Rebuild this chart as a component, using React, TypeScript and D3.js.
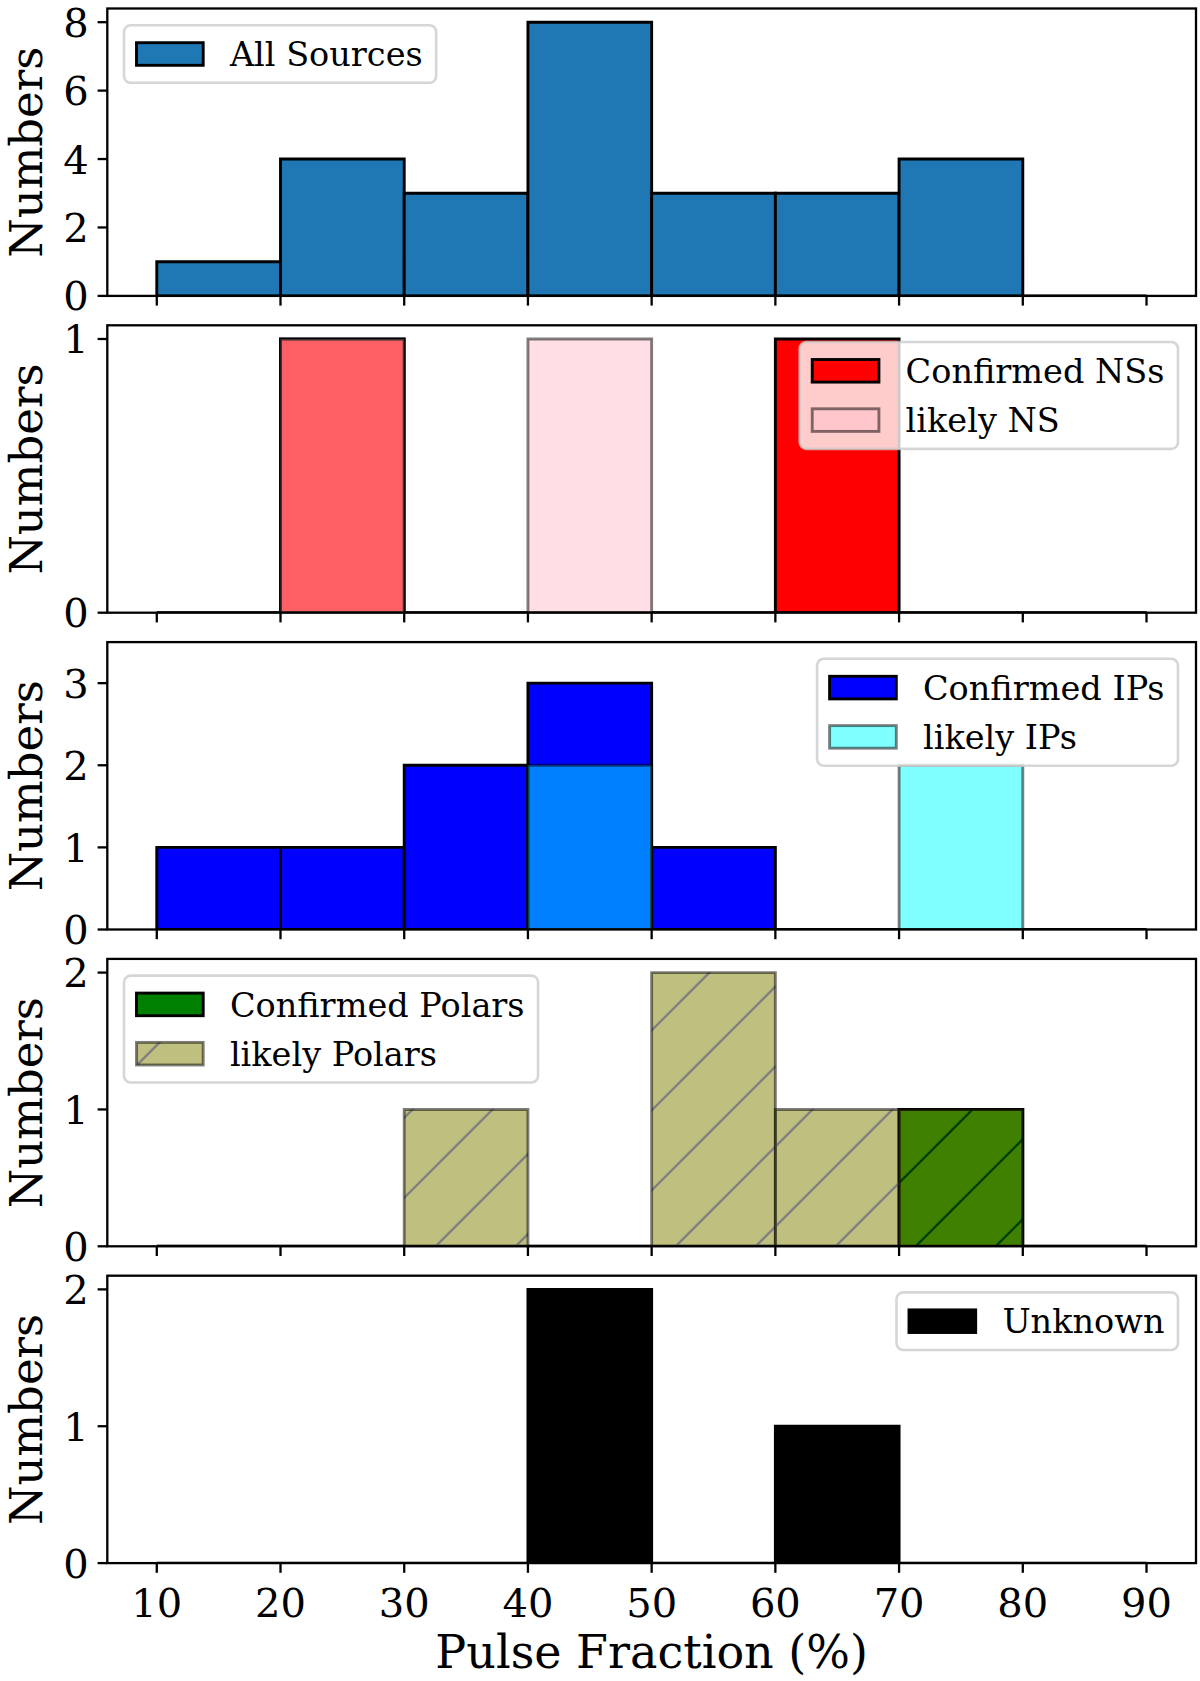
import React, { useEffect, useRef } from 'react';
import * as d3 from 'd3';

// histogram bins (pulse fraction, %)
const binEdges = [10, 20, 30, 40, 50, 60, 70, 80, 90];
const allSources = [1, 4, 3, 8, 3, 3, 4, 0];
const confirmedNS = [0, 1, 0, 0, 0, 1, 0, 0];
const likelyNS = [0, 1, 0, 1, 0, 0, 0, 0];
const confirmedIPs = [1, 1, 2, 3, 1, 0, 0, 0];
const likelyIPs = [0, 0, 0, 2, 0, 0, 2, 0];
const confirmedPolars = [0, 0, 0, 0, 0, 0, 1, 0];
const likelyPolars = [0, 0, 1, 0, 2, 1, 1, 0];
const unknownSrc = [0, 0, 0, 2, 0, 1, 0, 0];

const xTicks = [10, 20, 30, 40, 50, 60, 70, 80, 90];
const yTicksPerPanel = [[0, 2, 4, 6, 8], [0, 1], [0, 1, 2, 3], [0, 1, 2], [0, 1, 2]];
const yTopPerPanel = [8.4, 1.05, 3.5, 2.1, 2.1];

interface Layer {
  values: number[];
  fill: string;
  label: string;
  alpha?: number;
  hatch?: boolean;
}

interface Panel {
  layers: Layer[];
  legend: 'left' | 'right';
}

const panels: Panel[] = [
  { layers: [{ values: allSources, fill: '#1f77b4', label: 'All Sources' }], legend: 'left' },
  {
    layers: [
      { values: confirmedNS, fill: '#ff0000', label: 'Confirmed NSs' },
      { values: likelyNS, fill: '#ffc0cb', label: 'likely NS', alpha: 0.5 },
    ],
    legend: 'right',
  },
  {
    layers: [
      { values: confirmedIPs, fill: '#0000ff', label: 'Confirmed IPs' },
      { values: likelyIPs, fill: '#00ffff', label: 'likely IPs', alpha: 0.5 },
    ],
    legend: 'right',
  },
  {
    layers: [
      { values: confirmedPolars, fill: '#008000', label: 'Confirmed Polars' },
      { values: likelyPolars, fill: '#808000', label: 'likely Polars', alpha: 0.5, hatch: true },
    ],
    legend: 'left',
  },
  { layers: [{ values: unknownSrc, fill: '#000000', label: 'Unknown' }], legend: 'right' },
];

const FONT = '"DejaVu Serif", serif';

const App: React.FC = () => {
  const svgRef = useRef<SVGSVGElement | null>(null);

  useEffect(() => {
    if (!svgRef.current) return;
    document.body.style.margin = '0';

    const width = 1200;
    const height = 1681;
    const axLeft = 107.3;
    const axRight = 1196;
    const top0 = 8.5;
    const panelH = 287.4;
    const step = 316.8;
    const tickLen = 9.7;
    const spineW = 2.3;
    const edgeW = 2.9;

    const svg = d3.select(svgRef.current);
    svg.selectAll('*').remove();
    svg.attr('width', width).attr('height', height);

    const x = d3.scaleLinear().domain([6, 94]).range([axLeft, axRight]);

    const defs = svg.append('defs');
    // '/' hatch tiled in page coords; line colour = black at 50% over what lies below
    const hatchIds = new Map<string, string>();
    const hatchFor = (below: string) => {
      const col = d3.interpolateRgb(below, '#000')(0.5);
      if (hatchIds.has(col)) return hatchIds.get(col) as string;
      const id = `hatch${hatchIds.size}`;
      hatchIds.set(col, id);
      const p = defs.append('pattern')
        .attr('id', id)
        .attr('patternUnits', 'userSpaceOnUse')
        .attr('width', 80).attr('height', 80);
      p.append('path')
        .attr('d', 'M-10,12 L12,-10 M-10,92 L92,-10')
        .attr('stroke', col)
        .attr('stroke-width', 2.3).attr('fill', 'none');
      return id;
    };

    const barPath = (x0: number, x1: number, y0: number, y1: number) =>
      `M${x0},${y0}V${y1}H${x1}V${y0}Z`;

    panels.forEach((panel, pi) => {
      const top = top0 + pi * step;
      const bottom = top + panelH;
      const y = d3.scaleLinear().domain([0, yTopPerPanel[pi]]).range([bottom, top]);

      const clipId = `clip${pi}`;
      defs.append('clipPath').attr('id', clipId)
        .append('rect')
        .attr('x', axLeft).attr('y', top)
        .attr('width', axRight - axLeft).attr('height', panelH);

      const g = svg.append('g');
      const bars = g.append('g').attr('clip-path', `url(#${clipId})`);

      panel.layers.forEach((layer, li) => {
        const alpha = layer.alpha ?? 1;
        const under = li > 0 ? panel.layers[0] : null;
        layer.values.forEach((v, bi) => {
          const x0 = x(binEdges[bi]);
          const x1 = x(binEdges[bi + 1]);
          const d = barPath(x0, x1, y(0), y(v));
          bars.append('path').attr('d', d)
            .attr('fill', layer.fill).attr('fill-opacity', alpha)
            .attr('stroke', 'none');
          if (layer.hatch && v > 0) {
            const ub = under ? Math.min(under.values[bi], v) : 0;
            if (ub > 0 && under) {
              bars.append('path').attr('d', barPath(x0, x1, y(0), y(ub)))
                .attr('fill', `url(#${hatchFor(under.fill)})`);
            }
            bars.append('path').attr('d', barPath(x0, x1, y(ub), y(v)))
              .attr('fill', `url(#${hatchFor('#ffffff')})`);
          }
          bars.append('path').attr('d', d)
            .attr('fill', 'none')
            .attr('stroke', '#000').attr('stroke-opacity', alpha)
            .attr('stroke-width', edgeW).attr('stroke-linejoin', 'miter');
        });
      });

      // frame
      g.append('rect')
        .attr('x', axLeft).attr('y', top)
        .attr('width', axRight - axLeft).attr('height', panelH)
        .attr('fill', 'none').attr('stroke', '#000').attr('stroke-width', spineW);

      // x ticks
      xTicks.forEach(t => {
        g.append('line')
          .attr('x1', x(t)).attr('x2', x(t))
          .attr('y1', bottom).attr('y2', bottom + tickLen)
          .attr('stroke', '#000').attr('stroke-width', spineW);
      });

      // y ticks + labels
      yTicksPerPanel[pi].forEach(t => {
        g.append('line')
          .attr('x1', axLeft - tickLen).attr('x2', axLeft)
          .attr('y1', y(t)).attr('y2', y(t))
          .attr('stroke', '#000').attr('stroke-width', spineW);
        g.append('text')
          .attr('x', axLeft - tickLen - 9).attr('y', y(t) + 14.5)
          .attr('text-anchor', 'end')
          .attr('font-family', FONT).attr('font-size', 40)
          .text(String(t));
      });

      // y label
      g.append('text')
        .attr('transform', `translate(42,${(top + bottom) / 2}) rotate(-90)`)
        .attr('text-anchor', 'middle')
        .attr('font-family', FONT).attr('font-size', 45)
        .text('Numbers');

      // legend
      const fs = 33.5;
      const pad = 12.5;
      const rowH = 32.6;
      const spacing = 16.7;
      const handleW = 66.7;
      const handleH = 22.6;
      const textGap = 26.7;
      const legTop = top + 16.7;
      const nRows = panel.layers.length;
      const boxH = pad * 2 + nRows * rowH + (nRows - 1) * spacing;

      const leg = g.append('g');
      const frame = leg.append('rect')
        .attr('y', legTop).attr('height', boxH)
        .attr('rx', 6.7).attr('ry', 6.7)
        .attr('fill', '#fff').attr('fill-opacity', 0.8)
        .attr('stroke', '#cccccc').attr('stroke-opacity', 0.8).attr('stroke-width', 2.6);
      const items = leg.append('g');
      const swatches: { layer: Layer; sy: number }[] = [];
      let maxW = 0;
      panel.layers.forEach((layer, li) => {
        const cy = legTop + pad + li * (rowH + spacing) + rowH / 2;
        const sy = cy - handleH / 2;
        swatches.push({ layer, sy });
        const txt = items.append('text')
          .attr('x', pad + handleW + textGap).attr('y', cy + 12.2)
          .attr('font-family', FONT).attr('font-size', fs)
          .text(layer.label);
        const w = (txt.node() as SVGTextElement).getComputedTextLength();
        maxW = Math.max(maxW, w);
      });
      const boxW = pad + handleW + textGap + maxW + pad + 1;
      const legLeft = panel.legend === 'left' ? axLeft + 16.7 : axRight - 18 - boxW;
      frame.attr('x', legLeft).attr('width', boxW);
      items.attr('transform', `translate(${legLeft},0)`);

      // swatches drawn in page coords so the hatch lines up with the bars
      swatches.forEach(({ layer, sy }) => {
        const alpha = layer.alpha ?? 1;
        const sx = legLeft + pad;
        leg.append('rect')
          .attr('x', sx).attr('y', sy).attr('width', handleW).attr('height', handleH)
          .attr('fill', layer.fill).attr('fill-opacity', alpha).attr('stroke', 'none');
        if (layer.hatch) {
          leg.append('rect')
            .attr('x', sx).attr('y', sy).attr('width', handleW).attr('height', handleH)
            .attr('fill', `url(#${hatchFor('#ffffff')})`);
        }
        leg.append('rect')
          .attr('x', sx).attr('y', sy).attr('width', handleW).attr('height', handleH)
          .attr('fill', 'none').attr('stroke', '#000').attr('stroke-opacity', alpha)
          .attr('stroke-width', edgeW);
      });

      // x tick labels + axis label on the last panel
      if (pi === panels.length - 1) {
        xTicks.forEach(t => {
          g.append('text')
            .attr('x', x(t)).attr('y', bottom + 54)
            .attr('text-anchor', 'middle')
            .attr('font-family', FONT).attr('font-size', 40)
            .text(String(t));
        });
        g.append('text')
          .attr('x', (axLeft + axRight) / 2).attr('y', 1668)
          .attr('text-anchor', 'middle')
          .attr('font-family', FONT).attr('font-size', 46)
          .text('Pulse Fraction (%)');
      }
    });
  }, []);

  return (
    <div style={{ width: 1200, height: 1681, background: '#fff' }}>
      <svg ref={svgRef} width={1200} height={1681} style={{ display: 'block' }}></svg>
    </div>
  );
};

export default App;
